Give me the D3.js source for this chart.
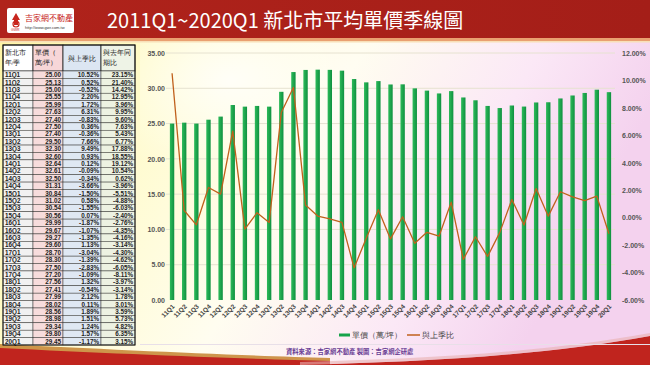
<!DOCTYPE html>
<html><head><meta charset="utf-8">
<script src="https://cdn.jsdelivr.net/npm/d3@7/dist/d3.min.js"></script>
<style>body{margin:0;padding:0;overflow:hidden;background:#fff}svg{display:block}</style>
</head><body>
<svg id="c" width="650" height="365"></svg>
<script>
const quarters = ["11Q1","11Q2","11Q3","11Q4","12Q1","12Q2","12Q3","12Q4","13Q1","13Q2","13Q3","13Q4","14Q1","14Q2","14Q3","14Q4","15Q1","15Q2","15Q3","15Q4","16Q1","16Q2","16Q3","16Q4","17Q1","17Q2","17Q3","17Q4","18Q1","18Q2","18Q3","18Q4","19Q1","19Q2","19Q3","19Q4","20Q1"];
const price = [25.00,25.13,25.00,25.55,25.99,27.63,27.40,27.50,27.40,29.50,32.30,32.60,32.64,32.61,32.50,31.31,30.84,31.02,30.54,30.56,29.99,29.67,29.27,29.60,28.70,28.30,27.50,27.20,27.56,27.41,27.99,28.02,28.56,28.98,29.34,29.80,29.45];
const qoq = [10.52,0.52,-0.52,2.20,1.72,6.31,-0.83,0.36,-0.36,7.66,9.49,0.93,0.12,-0.09,-0.34,-3.66,-1.50,0.58,-1.55,0.07,-1.87,-1.07,-1.35,1.13,-3.04,-1.39,-2.83,-1.09,1.32,-0.54,2.12,0.11,1.89,1.51,1.24,1.57,-1.17];
const yoy = [23.15,21.40,14.42,12.95,3.96,9.95,9.60,7.63,5.43,6.77,17.88,18.55,19.12,10.54,0.62,-3.96,-5.51,-4.88,-6.03,-2.40,-2.76,-4.35,-4.16,-3.14,-4.30,-4.62,-6.05,-8.11,-3.97,-3.14,1.78,3.01,3.59,5.73,4.82,6.35,3.15];
const leftTicks = [0,5,10,15,20,25,30,35];
const rightTicks = [-6,-4,-2,0,2,4,6,8,10,12];
const titleText = "2011Q1~2020Q1  新北市平均單價季線圖";
const legendLabels = ["單價（萬/坪）","與上季比"];
const sourceText = "資料來源：吉家網不動產  製圖：吉家網企研處";

const SANS = "'Noto Sans CJK TC','Noto Sans CJK SC','Noto Sans',sans-serif";
const SERIF = "serif";

const svg = d3.select("#c");
const defs = svg.append("defs");
const bg = defs.append("linearGradient").attr("id","bg").attr("x1","0").attr("x2","1").attr("y1","0").attr("y2","0.3");
[["0%","#fdf3a0"],["25%","#fffbc8"],["55%","#fffdf0"],["80%","#fbe8f6"],["100%","#f4d2ee"]].forEach(s=>bg.append("stop").attr("offset",s[0]).attr("stop-color",s[1]));
const glow = defs.append("radialGradient").attr("id","glow").attr("cx","0.3").attr("cy","0.2").attr("r","0.5");
glow.append("stop").attr("offset","0%").attr("stop-color","#ffffff").attr("stop-opacity",0.8);
glow.append("stop").attr("offset","100%").attr("stop-color","#ffffff").attr("stop-opacity",0);
const tg = defs.append("linearGradient").attr("id","tg").attr("x1","0").attr("x2","1");
tg.append("stop").attr("offset","0%").attr("stop-color","#b0231b");
tg.append("stop").attr("offset","100%").attr("stop-color","#a41e18");
const barG = defs.append("linearGradient").attr("id","barg").attr("x1","0").attr("x2","1");
barG.append("stop").attr("offset","0%").attr("stop-color","#2dbb5a");
barG.append("stop").attr("offset","100%").attr("stop-color","#0f9040");

svg.append("rect").attr("width",650).attr("height",365).attr("fill","url(#bg)");
svg.append("rect").attr("x",140).attr("y",40).attr("width",300).attr("height",200).attr("fill","url(#glow)");

// title bar
svg.append("rect").attr("width",650).attr("height",38).attr("fill","url(#tg)");
svg.append("rect").attr("y",38).attr("width",650).attr("height",3).attr("fill","#e9a070");
svg.append("rect").attr("y",41).attr("width",650).attr("height",1.5).attr("fill","#f8e0b8");
// logo
svg.append("rect").attr("x",7).attr("y",8).attr("width",67).attr("height",25).attr("rx",2).attr("fill","#ffffff");
svg.append("path").attr("d","M12,20 L16,13 L20,20 L18,20 L18,25 L14,25 L14,20 Z").attr("fill","#c8261e");
svg.append("circle").attr("cx",16).attr("cy",24).attr("r",3).attr("fill","none").attr("stroke","#c8261e").attr("stroke-width",1.2);
svg.append("text").attr("x",11).attr("y",30.5).attr("font-size",3.5).attr("font-family","Liberation Sans").attr("fill","#c8261e").text("GWR");
svg.append("text").attr("x",25).attr("y",21).attr("font-size",8).attr("font-family",SANS).attr("fill","#c8261e").text("吉家網不動產");
svg.append("text").attr("x",25).attr("y",29).attr("font-size",4).attr("font-family","Liberation Sans").attr("fill","#333").text("http://www.gwr.com.tw");
svg.append("text").attr("x",107).attr("y",28).attr("font-size",20).attr("font-family",SANS).attr("fill","#ffffff").text(titleText);

// bottom swooshes
svg.append("path").attr("d","M0,344 C120,350 250,356 330,358 L330,365 L0,365 Z").attr("fill","#c9893a").attr("opacity",0.9);
svg.append("path").attr("d","M0,348 C120,354 250,359 330,361 L330,365 L0,365 Z").attr("fill","#c0241e");
svg.append("path").attr("d","M300,365 C420,362 540,356 650,336 L650,365 Z").attr("fill","#c0241e");
svg.append("path").attr("d","M300,362 C420,359 540,353 650,333 L650,336 C540,356 420,362 300,365 Z").attr("fill","#e8b0b0").attr("opacity",0.6);
svg.append("line").attr("x1",140).attr("x2",650).attr("y1",344.5).attr("y2",344.5).attr("stroke","#e8dfe8").attr("stroke-width",1);

// table
const cols = [{x:3,w:30,fill:"#f1f1f1",hfill:"#ffffff"},{x:33,w:30,fill:"#f7dcdc",hfill:"#f7d6d8"},{x:63,w:38,fill:"#dfe8f3",hfill:"#dce6f2"},{x:101,w:34,fill:"#edf2e2",hfill:"#eef3e6"}];
const tbl = svg.append("g");
const hTop = 45, hBot = 71;
cols.forEach(c=>{
  tbl.append("rect").attr("x",c.x).attr("y",hTop).attr("width",c.w).attr("height",hBot-hTop).attr("fill",c.hfill).attr("stroke","#222").attr("stroke-width",0.8);
});
const headers = [["新北市","年/季"],["單價（","萬/坪）"],["與上季比"],["與去年同","期比"]];
headers.forEach((h,i)=>{
  const c = cols[i];
  h.forEach((t,j)=>{
    const yy = h.length===1 ? 61 : 55+j*10;
    tbl.append("text").attr("x",h.length===1? c.x+c.w/2 : c.x+1.5).attr("y",yy)
      .attr("text-anchor",h.length===1?"middle":"start")
      .attr("font-size",7).attr("font-family",SERIF).attr("fill","#222").text(t);
  });
});
const rowsData = quarters.map((q,i)=>[q, price[i].toFixed(2), qoq[i].toFixed(2)+"%", yoy[i].toFixed(2)+"%"]);
const rowY = d3.scaleBand().domain(d3.range(quarters.length)).range([hBot,345]);
rowsData.forEach((r,i)=>{
  const y = rowY(i);
  cols.forEach((c,j)=>{
    tbl.append("rect").attr("x",c.x).attr("y",y).attr("width",c.w).attr("height",rowY.bandwidth()).attr("fill",c.fill).attr("stroke","#333").attr("stroke-width",0.5);
    tbl.append("text").attr("x", j===0 ? c.x+2 : c.x+c.w-2).attr("y",y+rowY.bandwidth()-1.3)
      .attr("text-anchor", j===0?"start":"end")
      .attr("font-size",6.3).attr("font-weight","bold").attr("font-family","Liberation Sans").attr("fill","#222").text(r[j]);
  });
});
tbl.append("rect").attr("x",3).attr("y",hTop).attr("width",132).attr("height",345-hTop).attr("fill","none").attr("stroke","#111").attr("stroke-width",1);

// chart
const x = d3.scaleBand().domain(quarters).range([166,615]).paddingInner(0.64).paddingOuter(0.32);
const y = d3.scaleLinear().domain([0,35]).range([300,53]);
const y2 = d3.scaleLinear().domain([-6,12]).range([300,53]);

const grid = svg.append("g");
grid.selectAll("line").data(leftTicks.slice(1)).join("line")
  .attr("x1",166).attr("x2",615).attr("y1",d=>y(d)).attr("y2",d=>y(d))
  .attr("stroke","#e6e2d0").attr("stroke-width",1);

const axL = svg.append("g").attr("transform","translate(166,0)")
  .call(d3.axisLeft(y).tickValues(leftTicks).tickFormat(d3.format(".2f")).tickSize(0).tickPadding(1));
axL.select(".domain").remove();
axL.selectAll("text").attr("font-size",7).attr("font-family","Liberation Sans").attr("font-weight","bold").attr("fill","#555");

const axR = svg.append("g").attr("transform","translate(615,0)")
  .call(d3.axisRight(y2).tickValues(rightTicks).tickFormat(d=>d.toFixed(2)+"%").tickSize(0).tickPadding(7));
axR.select(".domain").remove();
axR.selectAll("text").attr("font-size",7).attr("font-family","Liberation Sans").attr("font-weight","bold").attr("fill","#555");

svg.append("g").selectAll("rect").data(price).join("rect")
  .attr("x",(d,i)=>x(quarters[i])).attr("width",x.bandwidth())
  .attr("y",d=>y(d)).attr("height",d=>y(0)-y(d)).attr("fill","url(#barg)");

const line = d3.line().x((d,i)=>x(quarters[i])+x.bandwidth()/2).y(d=>y2(d));
svg.append("path").datum(qoq).attr("d",line).attr("fill","none").attr("stroke","#c0601c").attr("stroke-width",1.3).attr("stroke-linejoin","round");

const axB = svg.append("g").attr("transform","translate(0,300)")
  .call(d3.axisBottom(x).tickSize(0).tickPadding(0));
axB.select(".domain").remove();
axB.selectAll("text").attr("font-size",6.5).attr("font-family","Liberation Sans").attr("font-weight","bold").attr("fill","#444")
  .attr("text-anchor","end").attr("dy",0).attr("transform","translate(3,7) rotate(-45)");

// legend
const lg = svg.append("g");
lg.append("rect").attr("x",339).attr("y",333.5).attr("width",11).attr("height",3).attr("fill","#16a34a");
lg.append("text").attr("x",352).attr("y",338).attr("font-size",8).attr("font-family",SERIF).attr("fill","#444").text(legendLabels[0]);
lg.append("line").attr("x1",407).attr("x2",420).attr("y1",335).attr("y2",335).attr("stroke","#c0601c").attr("stroke-width",1.5);
lg.append("text").attr("x",422).attr("y",338).attr("font-size",8).attr("font-family",SERIF).attr("fill","#444").text(legendLabels[1]);

svg.append("text").attr("x",286).attr("y",353.5).attr("font-size",6.3).attr("font-weight","bold").attr("font-family",SANS).attr("fill","#6a3e94").text(sourceText);
</script>
</body></html>
